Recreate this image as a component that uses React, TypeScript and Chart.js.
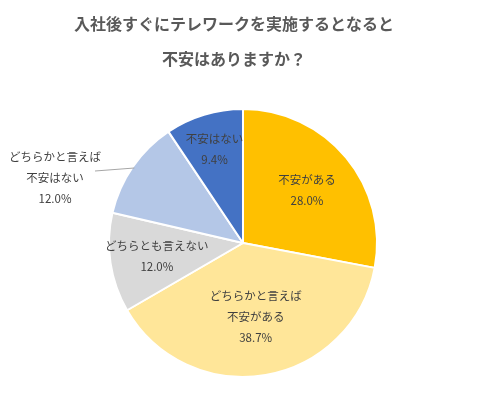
import React, { useEffect, useRef } from "react";
import { Chart, registerables } from "chart.js";

Chart.register(...registerables);

const titleLines = ["入社後すぐにテレワークを実施するとなると", "不安はありますか？"];
const categories = ["不安がある", "どちらかと言えば\n不安がある", "どちらとも言えない", "どちらかと言えば\n不安はない", "不安はない"];
const values = [28.0, 38.7, 12.0, 12.0, 9.4];
const valueLabels = ["28.0%", "38.7%", "12.0%", "12.0%", "9.4%"];
const colors = ["#FFC000", "#FFE699", "#D9D9D9", "#B4C7E7", "#4472C4"];

const FONT = '"Noto Sans CJK JP", "Noto Sans", sans-serif';

const labelPlugin = {
  id: "customLabels",
  afterDraw(chart: any) {
    const ctx = chart.ctx;
    ctx.save();
    // title
    ctx.fillStyle = "#595959";
    ctx.font = `bold 16px ${FONT}`;
    ctx.textAlign = "center";
    ctx.textBaseline = "middle";
    ctx.fillText(titleLines[0], 234, 24);
    ctx.fillText(titleLines[1], 234, 59);

    const meta = chart.getDatasetMeta(0);
    const factors = [0.62, 0.56, 0.65, 0, 0.73];
    ctx.font = `11.5px ${FONT}`;
    ctx.fillStyle = "#404040";
    const lh = 21;
    meta.data.forEach((arc: any, i: number) => {
      const p = arc.getProps(["x", "y", "startAngle", "endAngle", "outerRadius"], true);
      const mid = (p.startAngle + p.endAngle) / 2;
      const lines = [...categories[i].split("\n"), valueLabels[i]];
      if (i === 3) {
        const ex = p.x + Math.cos(mid) * (p.outerRadius - 2);
        const ey = p.y + Math.sin(mid) * (p.outerRadius - 2);
        ctx.strokeStyle = "#A6A6A6";
        ctx.lineWidth = 1;
        ctx.beginPath();
        ctx.moveTo(ex, ey);
        ctx.lineTo(95, ey + 3);
        ctx.stroke();
        const cx = 55;
        const cy = ey + 10;
        lines.forEach((t, k) => {
          ctx.fillText(t, cx, cy + (k - (lines.length - 1) / 2) * lh);
        });
        return;
      }
      const cx = p.x + Math.cos(mid) * p.outerRadius * factors[i];
      const cy = p.y + Math.sin(mid) * p.outerRadius * factors[i];
      lines.forEach((t, k) => {
        ctx.fillText(t, cx, cy + (k - (lines.length - 1) / 2) * lh);
      });
    });
    ctx.restore();
  },
};

export default function App() {
  const ref = useRef<HTMLCanvasElement>(null);
  useEffect(() => {
    document.body.style.margin = "0";
    const chart = new Chart(ref.current!, {
      type: "pie",
      data: {
        labels: categories,
        datasets: [
          {
            data: values,
            backgroundColor: colors,
            borderColor: "#FFFFFF",
            borderWidth: 2,
          },
        ],
      },
      options: {
        responsive: false,
        animation: false,
        layout: { padding: { top: 108, bottom: 36, left: 108, right: 112 } },
        plugins: {
          legend: { display: false },
          tooltip: { enabled: false },
          title: { display: false },
        },
      },
      plugins: [labelPlugin],
    });
    return () => chart.destroy();
  }, []);
  return (
    <div style={{ width: 490, height: 414, background: "#fff" }}>
      <canvas ref={ref} width={490} height={414} />
    </div>
  );
}
